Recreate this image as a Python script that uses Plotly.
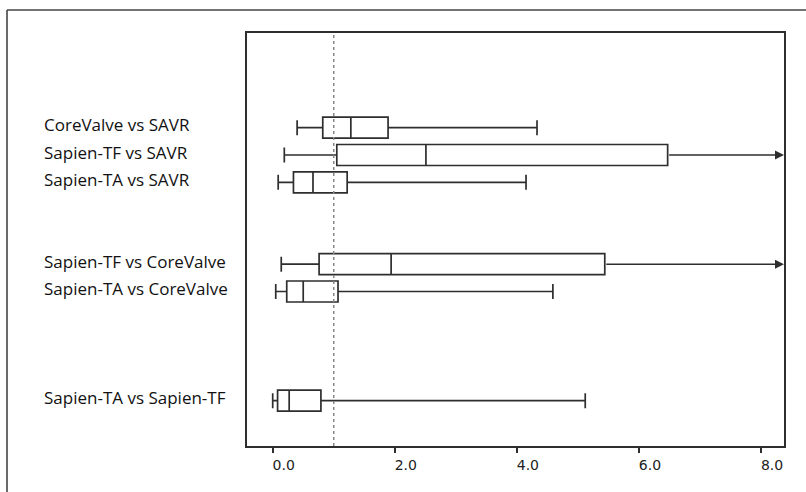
import plotly.graph_objects as go

# ---- data ----
labels = ["CoreValve vs SAVR", "Sapien-TF vs SAVR", "Sapien-TA vs SAVR",
          "Sapien-TF vs CoreValve", "Sapien-TA vs CoreValve", "Sapien-TA vs Sapien-TF"]
positions = [0, 1, 2, 5, 6, 10]
lower = [0.40, 0.19, 0.09, 0.14, 0.05, 0.00]
q1 = [0.82, 1.05, 0.34, 0.76, 0.23, 0.08]
median = [1.28, 2.51, 0.66, 1.94, 0.50, 0.27]
q3 = [1.89, 6.47, 1.22, 5.44, 1.07, 0.79]
upper = [4.33, None, 4.15, None, 4.59, 5.12]   # None = extends beyond axis (arrow)
tick_vals = [0, 2, 4, 6, 8]
tick_text = ["0.0", "2.0", "4.0", "6.0", "8.0"]
ref_line = 1.0

X_RANGE = [-0.421, 8.376]
Y_RANGE = [11.659, -3.469]
LINE = "#2e2e2e"

W, H = 806, 492
ML, MR, MT, MB = 247, 22, 33, 46
PW, PH = W - ML - MR, H - MT - MB

upper_box = [u if u is not None else q for u, q in zip(upper, q3)]

fig = go.Figure()
fig.add_trace(go.Box(
    y=positions, q1=q1, median=median, q3=q3,
    lowerfence=lower, upperfence=upper_box,
    orientation="h", boxpoints=False, width=0.77, whiskerwidth=0.72,
    fillcolor="white", line=dict(color=LINE, width=1.7),
    showlegend=False, hoverinfo="skip",
))

# arrows for whiskers running past the axis
for pos, u, q in zip(positions, upper, q3):
    if u is None:
        fig.add_annotation(x=X_RANGE[1], y=pos, ax=q, ay=pos, xref="x", yref="y",
                           axref="x", ayref="y", text="", showarrow=True,
                           arrowhead=2, arrowsize=1.2, arrowwidth=1.5,
                           arrowcolor=LINE, standoff=0, startstandoff=0)

# row labels
for pos, lab in zip(positions, labels):
    fig.add_annotation(x=(41.5 - ML) / PW, xref="paper", y=pos - 0.1, yref="y",
                       text=lab, showarrow=False, xanchor="left", yanchor="middle",
                       font=dict(family="Open Sans", size=17, color="#111111"))

# reference dotted line
fig.add_shape(type="line", x0=ref_line, x1=ref_line, y0=0, y1=1,
              xref="x", yref="paper", line=dict(color="#888888", width=1.5, dash="dot"))

# outer frame (left and top lines)
def px(xp):
    return (xp - ML) / PW
def py(yp):
    return 1 - (yp - MT) / PH
fig.add_shape(type="line", xref="paper", yref="paper",
              x0=px(7), x1=px(7), y0=py(500), y1=py(10),
              line=dict(color="#444444", width=1.6))
fig.add_shape(type="line", xref="paper", yref="paper",
              x0=px(7), x1=px(820), y0=py(10), y1=py(10),
              line=dict(color="#444444", width=1.6))

fig.update_xaxes(range=X_RANGE, tickvals=tick_vals, ticktext=tick_text,
                 showline=True, mirror=True, linecolor=LINE, linewidth=1.7,
                 ticks="outside", ticklen=5, tickwidth=1.5, tickcolor=LINE,
                 showgrid=False, zeroline=False, ticklabelshift=11,
                 tickfont=dict(family="DejaVu Sans", size=14, color="#222222"))
fig.update_yaxes(range=Y_RANGE, showticklabels=False, ticks="",
                 showline=True, mirror=True, linecolor=LINE, linewidth=1.7,
                 showgrid=False, zeroline=False)

fig.update_layout(width=W, height=H, margin=dict(l=ML, r=MR, t=MT, b=MB),
                  paper_bgcolor="white", plot_bgcolor="white")

fig.write_html("out.html")
